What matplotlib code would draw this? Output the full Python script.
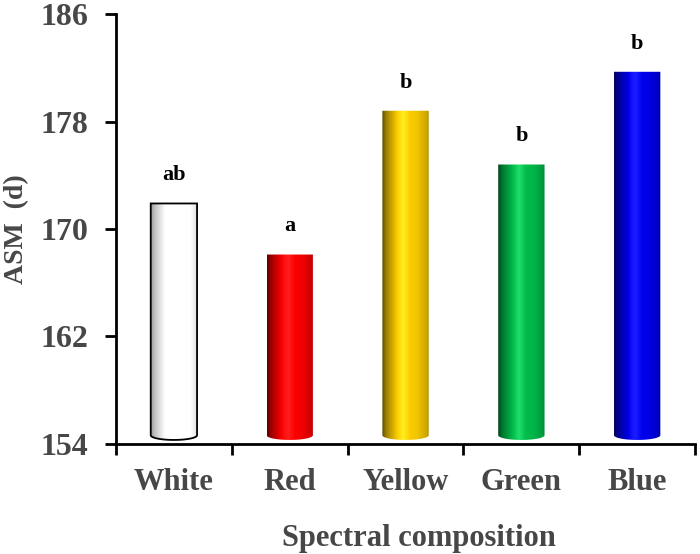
import numpy as np
import matplotlib.pyplot as plt
from matplotlib.path import Path
from matplotlib.patches import PathPatch
from matplotlib.colors import to_rgb

plt.rcParams["font.family"] = ["Liberation Serif", "DejaVu Serif"]
plt.rcParams["font.weight"] = "bold"

categories = ["White", "Red", "Yellow", "Green", "Blue"]
asm_days = [171.9, 168.1, 178.8, 174.8, 181.7]
letters = ["ab", "a", "b", "b", "b"]
bar_colors = ["#ffffff", "#ff0000", "#ffd000", "#00c04c", "#0000f0"]

y_ticks = [154, 162, 170, 178, 186]
text_gray = "#474747"

fig = plt.figure(figsize=(7.0, 5.54), dpi=100)
ax = fig.add_axes([0.1657, 0.1986, 0.8273, 0.7761])

width = 0.4
base = 154.65
cap = 0.35


def cylinder_path(x, top):
    # rectangle with a rounded (half ellipse) bottom
    t = np.linspace(np.pi, 2 * np.pi, 40)
    ex = x + width / 2 * np.cos(t)
    ey = base + cap * np.sin(t)
    verts = [(x - width / 2, top)]
    verts += list(zip(ex, ey))
    verts += [(x + width / 2, top), (x - width / 2, top)]
    codes = [Path.MOVETO] + [Path.LINETO] * (len(verts) - 2) + [Path.CLOSEPOLY]
    return Path(verts, codes)


# horizontal shading across the cylinder
u = np.linspace(0, 1, 200)
shade = np.interp(u, [0, 0.08, 0.3, 0.45, 0.75, 0.95, 1.0],
                  [0.35, 0.6, 0.95, 1.0, 0.95, 0.8, 0.7])

for i, (v, c) in enumerate(zip(asm_days, bar_colors)):
    rgb = np.array(to_rgb(c))
    if c == "#ffffff":
        grad = np.clip(0.45 + 0.55 * np.interp(u, [0, 0.1, 0.3, 0.85, 1.0],
                                               [0.3, 0.6, 1.0, 1.0, 0.75]), 0, 1)
        grad = np.repeat(grad[:, None], 3, axis=1)
    else:
        grad = shade[:, None] * rgb[None, :]
        hl = np.interp(u, [0, 0.3, 0.45, 0.6, 1.0], [0, 0, 0.12, 0, 0])
        grad = np.clip(grad + hl[:, None], 0, 1)
    img = grad[None, :, :]
    p = cylinder_path(i, v)
    im = ax.imshow(img, extent=[i - width / 2, i + width / 2, base - cap, v],
                   aspect="auto", interpolation="bilinear", zorder=2)
    patch = PathPatch(p, facecolor="none",
                      edgecolor="black" if c == "#ffffff" else "none",
                      lw=1.3, zorder=3)
    ax.add_patch(patch)
    im.set_clip_path(patch)
    ax.text(i, v + 2.1, letters[i], ha="center", va="center",
            fontsize=16, fontweight="bold", color="black")

ax.set_xlim(-0.5, 4.5)
ax.set_ylim(154, 186)

for s in ["top", "right"]:
    ax.spines[s].set_visible(False)
for s in ["left", "bottom"]:
    ax.spines[s].set_linewidth(2)
    ax.spines[s].set_color("black")

ax.set_yticks(y_ticks)
ax.set_yticklabels([str(t) for t in y_ticks])
ax.tick_params(axis="y", length=8, width=2, pad=12, labelsize=23,
               labelcolor=text_gray)

ax.set_xticks(range(len(categories)))
ax.set_xticklabels(categories)
ax.set_xticks(np.arange(-0.5, 5, 1), minor=True)
ax.tick_params(axis="x", which="major", length=0, pad=17, labelsize=22,
               labelcolor=text_gray)
ax.tick_params(axis="x", which="minor", length=8, width=2)

ax.set_ylabel("ASM  (d)", fontsize=20, fontweight="bold", color=text_gray)
ax.yaxis.set_label_coords(-0.15, 0.5)
ax.set_xlabel("Spectral composition", fontsize=22, fontweight="bold",
              color=text_gray)
ax.xaxis.set_label_coords(0.523, -0.185)

fig.savefig("out.png", dpi=100)
